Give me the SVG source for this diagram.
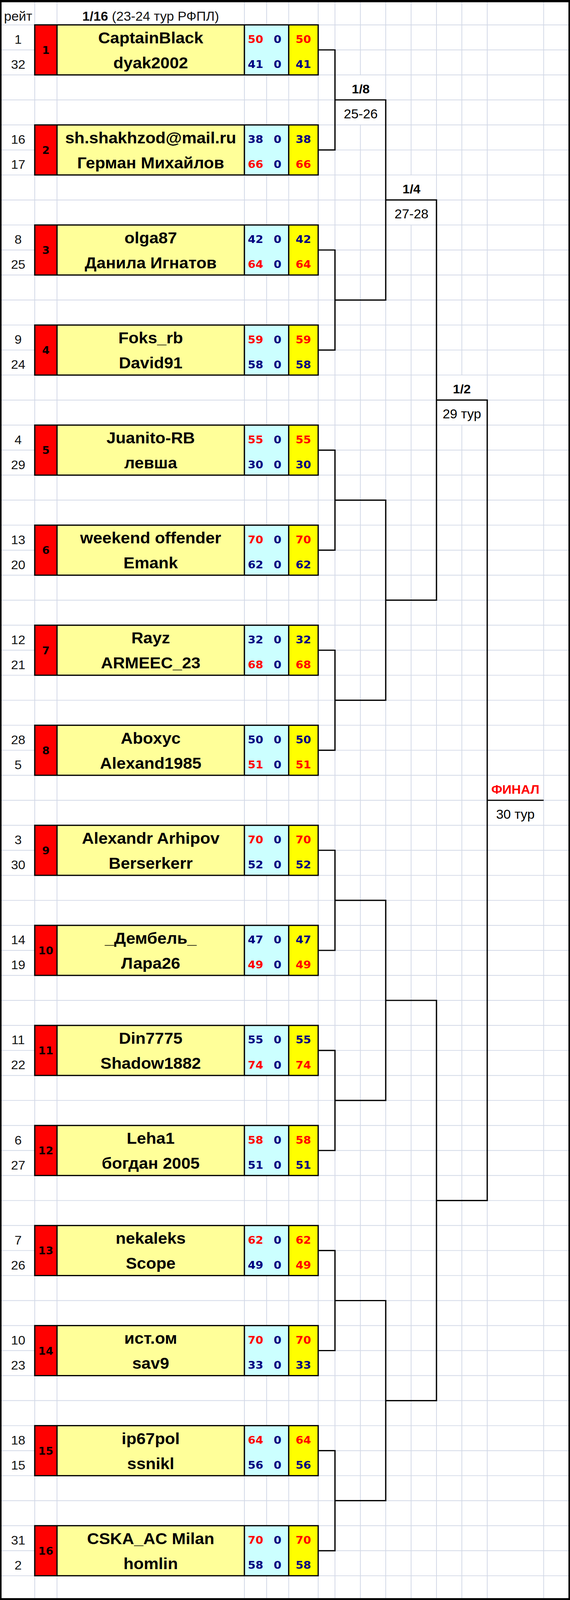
<svg xmlns="http://www.w3.org/2000/svg" xmlns:xlink="http://www.w3.org/1999/xlink" width="1460" height="4278" viewBox="0 0 1460 4278">
<style>
.grid{stroke:#D3D9E7;stroke-width:2;fill:none}
.cn{stroke:#000;stroke-width:3.3;fill:none;stroke-linejoin:miter}
.bx{stroke:#000;stroke-width:3.3;fill:none}
.red{fill:#FF0000}.nbx{fill:#FFFF99}.bbx{fill:#CCFFFF}.ybx{fill:#FFFF00}
text{text-anchor:middle}
.rt{font-family:'Liberation Sans',Arial,sans-serif;font-size:33px;fill:#111}
.hd{font-family:'Liberation Sans',Arial,sans-serif;font-size:34px;fill:#111}
.bd{font-weight:bold}
.nm{font-family:'Liberation Sans',Arial,sans-serif;font-size:42.5px;font-weight:bold;fill:#000}
.sd{font-family:'DejaVu Sans',Verdana,sans-serif;font-size:27.5px;font-weight:bold;fill:#000}
.sc{font-family:'DejaVu Sans',Verdana,sans-serif;font-size:28.5px;font-weight:bold}
.r{fill:#FF0000}.b{fill:#000080}
.lb{font-family:'Liberation Sans',Arial,sans-serif;font-size:33px;font-weight:bold;fill:#000}
.dt{font-family:'Liberation Sans',Arial,sans-serif;font-size:34px;fill:#000}
.fin{fill:#FF0000}
</style>
<defs>
<g id="box">
<rect class="red" x="89" y="0" width="57" height="133.8"/>
<rect class="nbx" x="146" y="0" width="480" height="133.8"/>
<rect class="bbx" x="626" y="0" width="113.5" height="133.8"/>
<rect class="ybx" x="739.5" y="0" width="75.5" height="133.8"/>
<rect class="bx" x="89" y="0" width="726" height="133.8"/>
<path class="bx" d="M146 0V133.8M626 0V133.8M739.5 0V133.8"/>
</g>
</defs>
<rect x="0" y="0" width="1460" height="4278" fill="#FFFFFF"/>
<g id="page" transform="matrix(1 0 0 0.957457 0 0)">
<g id="grid">
<path class="grid" d="M4 66.5H1456M4 133.4H1456M4 200.3H1456M4 267.1H1456M4 334H1456M4 400.9H1456M4 467.8H1456M4 534.7H1456M4 601.5H1456M4 668.4H1456M4 735.3H1456M4 802.2H1456M4 869.1H1456M4 935.9H1456M4 1002.8H1456M4 1069.7H1456M4 1136.6H1456M4 1203.5H1456M4 1270.3H1456M4 1337.2H1456M4 1404.1H1456M4 1471H1456M4 1537.9H1456M4 1604.7H1456M4 1671.6H1456M4 1738.5H1456M4 1805.4H1456M4 1872.3H1456M4 1939.1H1456M4 2006H1456M4 2072.9H1456M4 2139.8H1456M4 2206.7H1456M4 2273.5H1456M4 2340.4H1456M4 2407.3H1456M4 2474.2H1456M4 2541.1H1456M4 2607.9H1456M4 2674.8H1456M4 2741.7H1456M4 2808.6H1456M4 2875.5H1456M4 2942.3H1456M4 3009.2H1456M4 3076.1H1456M4 3143H1456M4 3209.9H1456M4 3276.7H1456M4 3343.6H1456M4 3410.5H1456M4 3477.4H1456M4 3544.3H1456M4 3611.1H1456M4 3678H1456M4 3744.9H1456M4 3811.8H1456M4 3878.7H1456M4 3945.5H1456M4 4012.4H1456M4 4079.3H1456M4 4146.2H1456M4 4213.1H1456"/>
<path class="grid" d="M89 6V4273M146 6V4273M626 6V4273M683 6V4273M739.5 6V4273M815 6V4273M858 6V4273M923 6V201.3M923 333V4273M988 6V4273M1053 6V468.8M1053 600.5V4273M1118 6V4273M1183 6V1003.8M1183 1135.6V4273M1248 6V4273M1392.5 6V4273"/>
</g>
<g id="header">
<text class="hd" x="46.5" y="55">рейт</text>
<text class="hd" x="386" y="55"><tspan class="bd">1/16</tspan> (23-24 тур РФПЛ)</text>
</g>
<g id="connectors">
<path class="cn" d="M815 133.4H858V400.9H815M858 267.1H988V802.2H858M815 668.4H858V935.9H815M988 534.7H1118V1604.7H988M815 1203.5H858V1471H815M858 1337.2H988V1872.3H858M815 1738.5H858V2006H815M1118 1069.7H1248V3209.9H1118M815 2273.5H858V2541.1H815M858 2407.3H988V2942.3H858M815 2808.6H858V3076.1H815M988 2674.8H1118V3744.9H988M815 3343.6H858V3611.1H815M858 3477.4H988V4012.4H858M815 3878.7H858V4146.2H815M1248 2139.8H1392.5"/>
</g>
<g id="round-labels">
<text class="lb" x="924" y="249.3">1/8</text>
<text class="dt" x="924" y="316.1">25-26</text>
<text class="lb" x="1054" y="516.8">1/4</text>
<text class="dt" x="1054" y="583.7">27-28</text>
<text class="lb" x="1183" y="1051.8">1/2</text>
<text class="dt" x="1183" y="1118.7">29 тур</text>
<text class="lb fin" x="1320" y="2121.9">ФИНАЛ</text>
<text class="dt" x="1320" y="2188.8">30 тур</text>
</g>
<g id="match-1" transform="translate(0,66.5)">
<use xlink:href="#box" href="#box"/>
<text class="rt" x="46.5" y="50.5">1</text><text class="rt" x="46.5" y="117.4">32</text>
<text class="sd" x="117.5" y="77.4">1</text>
<text class="nm" x="386" y="49">CaptainBlack</text><text class="nm" x="386" y="115.9">dyak2002</text>
<text class="sc r" x="654.5" y="48.5">50</text><text class="sc b" x="711" y="48.5">0</text><text class="sc r" x="777" y="48.5">50</text>
<text class="sc b" x="654.5" y="115.4">41</text><text class="sc b" x="711" y="115.4">0</text><text class="sc b" x="777" y="115.4">41</text>
</g>
<g id="match-2" transform="translate(0,334.02)">
<use xlink:href="#box" href="#box"/>
<text class="rt" x="46.5" y="50.5">16</text><text class="rt" x="46.5" y="117.4">17</text>
<text class="sd" x="117.5" y="77.4">2</text>
<text class="nm" x="386" y="49">sh.shakhzod@mail.ru</text><text class="nm" x="386" y="115.9">Герман Михайлов</text>
<text class="sc b" x="654.5" y="48.5">38</text><text class="sc b" x="711" y="48.5">0</text><text class="sc b" x="777" y="48.5">38</text>
<text class="sc r" x="654.5" y="115.4">66</text><text class="sc b" x="711" y="115.4">0</text><text class="sc r" x="777" y="115.4">66</text>
</g>
<g id="match-3" transform="translate(0,601.54)">
<use xlink:href="#box" href="#box"/>
<text class="rt" x="46.5" y="50.5">8</text><text class="rt" x="46.5" y="117.4">25</text>
<text class="sd" x="117.5" y="77.4">3</text>
<text class="nm" x="386" y="49">olga87</text><text class="nm" x="386" y="115.9">Данила Игнатов</text>
<text class="sc b" x="654.5" y="48.5">42</text><text class="sc b" x="711" y="48.5">0</text><text class="sc b" x="777" y="48.5">42</text>
<text class="sc r" x="654.5" y="115.4">64</text><text class="sc b" x="711" y="115.4">0</text><text class="sc r" x="777" y="115.4">64</text>
</g>
<g id="match-4" transform="translate(0,869.06)">
<use xlink:href="#box" href="#box"/>
<text class="rt" x="46.5" y="50.5">9</text><text class="rt" x="46.5" y="117.4">24</text>
<text class="sd" x="117.5" y="77.4">4</text>
<text class="nm" x="386" y="49">Foks_rb</text><text class="nm" x="386" y="115.9">David91</text>
<text class="sc r" x="654.5" y="48.5">59</text><text class="sc b" x="711" y="48.5">0</text><text class="sc r" x="777" y="48.5">59</text>
<text class="sc b" x="654.5" y="115.4">58</text><text class="sc b" x="711" y="115.4">0</text><text class="sc b" x="777" y="115.4">58</text>
</g>
<g id="match-5" transform="translate(0,1136.58)">
<use xlink:href="#box" href="#box"/>
<text class="rt" x="46.5" y="50.5">4</text><text class="rt" x="46.5" y="117.4">29</text>
<text class="sd" x="117.5" y="77.4">5</text>
<text class="nm" x="386" y="49">Juanito-RB</text><text class="nm" x="386" y="115.9">левша</text>
<text class="sc r" x="654.5" y="48.5">55</text><text class="sc b" x="711" y="48.5">0</text><text class="sc r" x="777" y="48.5">55</text>
<text class="sc b" x="654.5" y="115.4">30</text><text class="sc b" x="711" y="115.4">0</text><text class="sc b" x="777" y="115.4">30</text>
</g>
<g id="match-6" transform="translate(0,1404.1)">
<use xlink:href="#box" href="#box"/>
<text class="rt" x="46.5" y="50.5">13</text><text class="rt" x="46.5" y="117.4">20</text>
<text class="sd" x="117.5" y="77.4">6</text>
<text class="nm" x="386" y="49">weekend offender</text><text class="nm" x="386" y="115.9">Emank</text>
<text class="sc r" x="654.5" y="48.5">70</text><text class="sc b" x="711" y="48.5">0</text><text class="sc r" x="777" y="48.5">70</text>
<text class="sc b" x="654.5" y="115.4">62</text><text class="sc b" x="711" y="115.4">0</text><text class="sc b" x="777" y="115.4">62</text>
</g>
<g id="match-7" transform="translate(0,1671.62)">
<use xlink:href="#box" href="#box"/>
<text class="rt" x="46.5" y="50.5">12</text><text class="rt" x="46.5" y="117.4">21</text>
<text class="sd" x="117.5" y="77.4">7</text>
<text class="nm" x="386" y="49">Rayz</text><text class="nm" x="386" y="115.9">ARMEEC_23</text>
<text class="sc b" x="654.5" y="48.5">32</text><text class="sc b" x="711" y="48.5">0</text><text class="sc b" x="777" y="48.5">32</text>
<text class="sc r" x="654.5" y="115.4">68</text><text class="sc b" x="711" y="115.4">0</text><text class="sc r" x="777" y="115.4">68</text>
</g>
<g id="match-8" transform="translate(0,1939.14)">
<use xlink:href="#box" href="#box"/>
<text class="rt" x="46.5" y="50.5">28</text><text class="rt" x="46.5" y="117.4">5</text>
<text class="sd" x="117.5" y="77.4">8</text>
<text class="nm" x="386" y="49">Aboxyc</text><text class="nm" x="386" y="115.9">Alexand1985</text>
<text class="sc b" x="654.5" y="48.5">50</text><text class="sc b" x="711" y="48.5">0</text><text class="sc b" x="777" y="48.5">50</text>
<text class="sc r" x="654.5" y="115.4">51</text><text class="sc b" x="711" y="115.4">0</text><text class="sc r" x="777" y="115.4">51</text>
</g>
<g id="match-9" transform="translate(0,2206.66)">
<use xlink:href="#box" href="#box"/>
<text class="rt" x="46.5" y="50.5">3</text><text class="rt" x="46.5" y="117.4">30</text>
<text class="sd" x="117.5" y="77.4">9</text>
<text class="nm" x="386" y="49">Alexandr Arhipov</text><text class="nm" x="386" y="115.9">Berserkerr</text>
<text class="sc r" x="654.5" y="48.5">70</text><text class="sc b" x="711" y="48.5">0</text><text class="sc r" x="777" y="48.5">70</text>
<text class="sc b" x="654.5" y="115.4">52</text><text class="sc b" x="711" y="115.4">0</text><text class="sc b" x="777" y="115.4">52</text>
</g>
<g id="match-10" transform="translate(0,2474.18)">
<use xlink:href="#box" href="#box"/>
<text class="rt" x="46.5" y="50.5">14</text><text class="rt" x="46.5" y="117.4">19</text>
<text class="sd" x="117.5" y="77.4">10</text>
<text class="nm" x="386" y="49">_Дембель_</text><text class="nm" x="386" y="115.9">Лара26</text>
<text class="sc b" x="654.5" y="48.5">47</text><text class="sc b" x="711" y="48.5">0</text><text class="sc b" x="777" y="48.5">47</text>
<text class="sc r" x="654.5" y="115.4">49</text><text class="sc b" x="711" y="115.4">0</text><text class="sc r" x="777" y="115.4">49</text>
</g>
<g id="match-11" transform="translate(0,2741.7)">
<use xlink:href="#box" href="#box"/>
<text class="rt" x="46.5" y="50.5">11</text><text class="rt" x="46.5" y="117.4">22</text>
<text class="sd" x="117.5" y="77.4">11</text>
<text class="nm" x="386" y="49">Din7775</text><text class="nm" x="386" y="115.9">Shadow1882</text>
<text class="sc b" x="654.5" y="48.5">55</text><text class="sc b" x="711" y="48.5">0</text><text class="sc b" x="777" y="48.5">55</text>
<text class="sc r" x="654.5" y="115.4">74</text><text class="sc b" x="711" y="115.4">0</text><text class="sc r" x="777" y="115.4">74</text>
</g>
<g id="match-12" transform="translate(0,3009.22)">
<use xlink:href="#box" href="#box"/>
<text class="rt" x="46.5" y="50.5">6</text><text class="rt" x="46.5" y="117.4">27</text>
<text class="sd" x="117.5" y="77.4">12</text>
<text class="nm" x="386" y="49">Leha1</text><text class="nm" x="386" y="115.9">богдан 2005</text>
<text class="sc r" x="654.5" y="48.5">58</text><text class="sc b" x="711" y="48.5">0</text><text class="sc r" x="777" y="48.5">58</text>
<text class="sc b" x="654.5" y="115.4">51</text><text class="sc b" x="711" y="115.4">0</text><text class="sc b" x="777" y="115.4">51</text>
</g>
<g id="match-13" transform="translate(0,3276.74)">
<use xlink:href="#box" href="#box"/>
<text class="rt" x="46.5" y="50.5">7</text><text class="rt" x="46.5" y="117.4">26</text>
<text class="sd" x="117.5" y="77.4">13</text>
<text class="nm" x="386" y="49">nekaleks</text><text class="nm" x="386" y="115.9">Scope</text>
<text class="sc r" x="654.5" y="48.5">62</text><text class="sc b" x="711" y="48.5">0</text><text class="sc r" x="777" y="48.5">62</text>
<text class="sc b" x="654.5" y="115.4">49</text><text class="sc b" x="711" y="115.4">0</text><text class="sc r" x="777" y="115.4">49</text>
</g>
<g id="match-14" transform="translate(0,3544.26)">
<use xlink:href="#box" href="#box"/>
<text class="rt" x="46.5" y="50.5">10</text><text class="rt" x="46.5" y="117.4">23</text>
<text class="sd" x="117.5" y="77.4">14</text>
<text class="nm" x="386" y="49">ист.ом</text><text class="nm" x="386" y="115.9">sav9</text>
<text class="sc r" x="654.5" y="48.5">70</text><text class="sc b" x="711" y="48.5">0</text><text class="sc r" x="777" y="48.5">70</text>
<text class="sc b" x="654.5" y="115.4">33</text><text class="sc b" x="711" y="115.4">0</text><text class="sc b" x="777" y="115.4">33</text>
</g>
<g id="match-15" transform="translate(0,3811.78)">
<use xlink:href="#box" href="#box"/>
<text class="rt" x="46.5" y="50.5">18</text><text class="rt" x="46.5" y="117.4">15</text>
<text class="sd" x="117.5" y="77.4">15</text>
<text class="nm" x="386" y="49">ip67pol</text><text class="nm" x="386" y="115.9">ssnikl</text>
<text class="sc r" x="654.5" y="48.5">64</text><text class="sc b" x="711" y="48.5">0</text><text class="sc r" x="777" y="48.5">64</text>
<text class="sc b" x="654.5" y="115.4">56</text><text class="sc b" x="711" y="115.4">0</text><text class="sc b" x="777" y="115.4">56</text>
</g>
<g id="match-16" transform="translate(0,4079.3)">
<use xlink:href="#box" href="#box"/>
<text class="rt" x="46.5" y="50.5">31</text><text class="rt" x="46.5" y="117.4">2</text>
<text class="sd" x="117.5" y="77.4">16</text>
<text class="nm" x="386" y="49">CSKA_AC Milan</text><text class="nm" x="386" y="115.9">homlin</text>
<text class="sc r" x="654.5" y="48.5">70</text><text class="sc b" x="711" y="48.5">0</text><text class="sc r" x="777" y="48.5">70</text>
<text class="sc b" x="654.5" y="115.4">58</text><text class="sc b" x="711" y="115.4">0</text><text class="sc b" x="777" y="115.4">58</text>
</g>
<g id="frame">
<rect x="0" y="0" width="1460" height="6" fill="#000"/>
<rect x="0" y="0" width="4" height="4278" fill="#000"/>
<rect x="1456" y="0" width="4" height="4278" fill="#000"/>
<rect x="0" y="4273" width="1460" height="5" fill="#000"/>
</g>
</g>
</svg>
